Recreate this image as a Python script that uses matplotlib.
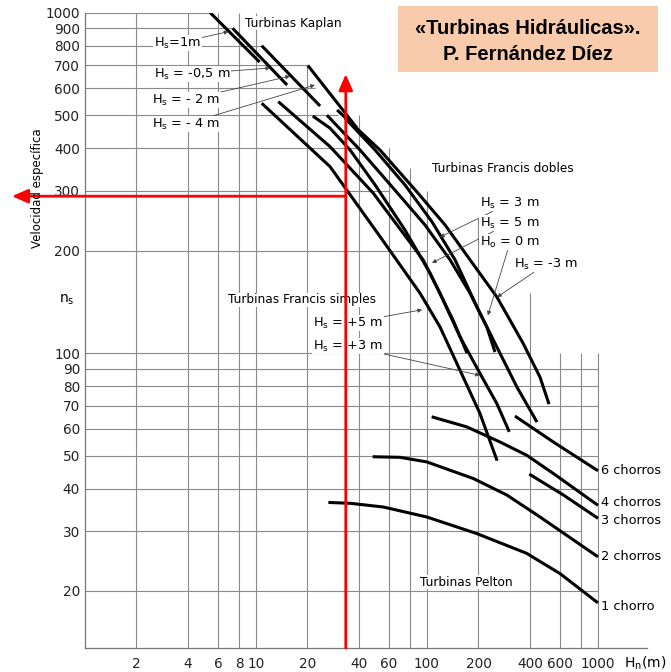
import matplotlib.pyplot as plt
from matplotlib.patches import Rectangle
from matplotlib.ticker import FixedLocator, FixedFormatter, NullLocator

# ---- data (Hn in m, ns) ----
# Kaplan lines
kap_hs1_hn = [5.4, 10.5]
kap_hs1_ns = [1000, 716]
kap_hs05_hn = [7.3, 15.2]
kap_hs05_ns = [900, 613]
kap_hs2_hn = [10.8, 23.7]
kap_hs2_ns = [800, 532]
kap_hs4_hn = [20.1, 39.0]
kap_hs4_ns = [700, 458]

# Francis simples
fs_p5_hn = [10.8, 27.1, 53.1, 91, 119, 156, 204, 257]
fs_p5_ns = [542, 353, 220, 150, 119.5, 89, 66.5, 48.3]
fs_p3_hn = [13.5, 27.1, 48.5, 95.1, 119, 156, 204, 256, 303]
fs_p3_ns = [548, 404, 295, 187.6, 150, 111.6, 87.2, 71.1, 58.7]

# Francis dobles
fd_3_hn = [21.5, 27.1, 35.5, 49.7, 74.3, 104, 142, 171.4]
fd_3_ns = [497, 458, 395, 312, 230, 172, 125, 100]
fd_0_hn = [26.0, 40.6, 65.0, 97.3, 136.3, 178.4, 224.3, 249.8]
fd_0_ns = [500, 395, 301, 238, 188, 150, 119, 100.7]
fd_5_hn = [33.2, 49.7, 74.3, 107, 145.8, 196.1, 256.6, 336, 440]
fd_5_ns = [490, 395, 312, 243, 188, 136.5, 104, 79.4, 62.7]
fd_m3_hn = [29.8, 53.1, 88.6, 127.5, 178.4, 256.6, 364.2, 458, 517]
fd_m3_ns = [518, 395, 295, 238, 188, 146, 107, 85, 70.8]

# Pelton
pel_6_hn = [327, 548, 1000]
pel_6_ns = [65.3, 54.8, 45.1]
pel_4_hn = [106.5, 170.7, 267.3, 382.8, 547.7, 1000]
pel_4_ns = [65, 60.7, 54.8, 50.1, 44.3, 35.7]
pel_3_hn = [396.5, 626.8, 1000]
pel_3_ns = [44.1, 38.3, 32.7]
pel_2_hn = [48.1, 69.5, 99.6, 186.6, 292.5, 458, 1000]
pel_2_ns = [49.6, 49.4, 47.9, 42.8, 38.3, 33.0, 25.2]
pel_1_hn = [26.5, 35.5, 55.5, 99.6, 195.3, 382.8, 599.6, 1000]
pel_1_ns = [36.4, 36.2, 35.3, 33.0, 29.5, 25.8, 22.5, 18.45]

# red reading lines
hn_sel = 33.5
ns_sel = 289
ns_arrow_top = 660
hn_arrow_left = 0.374

# axis ticks
x_ticks = [2, 4, 6, 8, 10, 20, 40, 60, 100, 200, 400, 600, 1000]
y_ticks = [20, 30, 40, 50, 60, 70, 80, 90, 100, 200, 300, 400, 500, 600, 700, 800, 900, 1000]

# grid extents (partial grid, as in the original)
hgrid = {1000: 5.4, 900: 7.3, 800: 10.8, 700: 20.1, 600: 22, 500: 30, 400: 40,
         300: 60, 200: 100, 100: 400, 90: 1000, 80: 1000, 70: 1000, 60: 1000,
         50: 1000, 40: 1000, 30: 800, 20: 1000}
vgrid = {2: 1000, 4: 1000, 6: 1000, 8: 1000, 10: 1000, 20: 700, 40: 500, 60: 400,
         80: 350, 100: 300, 200: 250, 400: 150, 600: 100, 800: 100, 1000: 100}

W, H = 671, 672
XMIN, XMAX, YMIN, YMAX = 1, 1927, 13.6, 1000


def fxy(px, py):
    return px / W, 1 - py / H


fig = plt.figure(figsize=(W / 100, H / 100), dpi=100)
ax = fig.add_axes([85 / W, 1 - 648 / H, (646.7 - 85) / W, (648 - 12.7) / H])
ax.patch.set_visible(False)
ax.set_xscale('log')
ax.set_yscale('log')
ax.set_xlim(XMIN, XMAX)
ax.set_ylim(YMIN, YMAX)

grid_c = '#8a8a8a'
for y, xmax in hgrid.items():
    ax.hlines(y, XMIN, xmax, color=grid_c, lw=0.8, zorder=1)
for x, ymax in vgrid.items():
    ax.vlines(x, YMIN, ymax, color=grid_c, lw=0.8, zorder=1)

for s in ['top', 'right']:
    ax.spines[s].set_visible(False)
for s in ['left', 'bottom']:
    ax.spines[s].set_color('#777777')
    ax.spines[s].set_linewidth(0.9)

ax.xaxis.set_major_locator(FixedLocator(x_ticks))
ax.xaxis.set_major_formatter(FixedFormatter([str(v) for v in x_ticks]))
ax.yaxis.set_major_locator(FixedLocator(y_ticks))
ax.yaxis.set_major_formatter(FixedFormatter([str(v) for v in y_ticks]))
ax.xaxis.set_minor_locator(NullLocator())
ax.yaxis.set_minor_locator(NullLocator())
ax.tick_params(axis='x', length=0, labelsize=9.8, pad=6.5, colors='#222222')
ax.tick_params(axis='y', length=0, labelsize=9.8, pad=3.6, colors='#222222')

curves = [
    (kap_hs1_hn, kap_hs1_ns), (kap_hs05_hn, kap_hs05_ns), (kap_hs2_hn, kap_hs2_ns),
    (kap_hs4_hn, kap_hs4_ns), (fs_p5_hn, fs_p5_ns), (fs_p3_hn, fs_p3_ns),
    (fd_3_hn, fd_3_ns), (fd_0_hn, fd_0_ns), (fd_5_hn, fd_5_ns), (fd_m3_hn, fd_m3_ns),
    (pel_6_hn, pel_6_ns), (pel_4_hn, pel_4_ns), (pel_3_hn, pel_3_ns),
    (pel_2_hn, pel_2_ns), (pel_1_hn, pel_1_ns),
]
for hn, ns in curves:
    ax.plot(hn, ns, color='black', lw=2.2, solid_capstyle='butt',
            solid_joinstyle='round', zorder=3)

lab_fs = 9.3


def label(text, px, py, target=None, fs=lab_fs):
    kw = dict(fontsize=fs, ha='left', va='center', zorder=4,
              bbox=dict(fc='white', ec='none', pad=0.6))
    if target is None:
        ax.annotate(text, xy=fxy(px, py), xycoords='figure fraction', **kw)
    else:
        ax.annotate(text, xy=target, xycoords='data', xytext=fxy(px, py),
                    textcoords='figure fraction',
                    arrowprops=dict(arrowstyle='-|>', lw=0.6, color='#444444',
                                    mutation_scale=6, shrinkA=0, shrinkB=0),
                    **kw)


HS = r'$\mathregular{H_s}$'
label('Turbinas Kaplan', 245, 23, fs=8.7)
label(HS + '=1m', 154, 43, (6.9, 880))
label(HS + ' = -0,5 m', 154, 74, (12.1, 688))
label(HS + ' = - 2 m', 152, 100, (15.8, 651))
label(HS + ' = - 4 m', 152, 124, (22.1, 613))

label('Turbinas Francis dobles', 432, 169, fs=8.7)
label(HS + ' = 3 m', 480, 203, (119, 219))
label(HS + ' = 5 m', 480, 223, (107, 184))
label(r'$\mathregular{H_o}$ = 0 m', 480, 242, (227, 129))
label(HS + ' = -3 m', 514, 264, (257, 146))

label('Turbinas Francis simples', 228, 300, fs=8.7)
label(HS + ' = +5 m', 313, 323, (93.5, 134))
label(HS + ' = +3 m', 313, 346, (204, 86))

label('Turbinas Pelton', 420, 582, fs=8.7)
for txt, py in [('6 chorros', 470), ('4 chorros', 503), ('3 chorros', 520),
                ('2 chorros', 557), ('1 chorro', 606)]:
    fig.text(*fxy(601, py), txt, fontsize=9.3, ha='left', va='center')

# axis texts
fig.text(*fxy(37.5, 188), 'Velocidad específica', rotation=90, fontsize=8.5,
         ha='center', va='center')
fig.text(*fxy(67, 300), r'$\mathregular{n_s}$', fontsize=10, ha='center', va='center')
fig.text(*fxy(624, 663), r'$\mathregular{H_n}$(m)', fontsize=10, ha='left', va='center')

# red reading arrows
red_arrow = dict(arrowstyle='-|>,head_length=0.8,head_width=0.35', color='red',
                 lw=2.0, mutation_scale=12, shrinkA=0, shrinkB=0, clip_on=False)
ax.annotate('', xy=(hn_sel, ns_arrow_top), xytext=(hn_sel, YMIN),
            arrowprops=red_arrow, annotation_clip=False, zorder=6)
ax.annotate('', xy=(hn_arrow_left, ns_sel), xytext=(hn_sel, ns_sel),
            arrowprops=red_arrow, annotation_clip=False, zorder=6)

# title box
fig.add_artist(Rectangle(fxy(398, 72), (658 - 398) / W, 66 / H,
                         transform=fig.transFigure, fc='#F8CBAD', ec='none', zorder=5))
fig.text(*fxy(528, 28), '«Turbinas Hidráulicas».', fontsize=14.5, fontweight='bold',
         family='Liberation Sans', ha='center', va='center', zorder=6)
fig.text(*fxy(528, 55), 'P. Fernández Díez', fontsize=14.5, fontweight='bold',
         family='Liberation Sans', ha='center', va='center', zorder=6)

fig.savefig('out.png', dpi=100, facecolor='white')
